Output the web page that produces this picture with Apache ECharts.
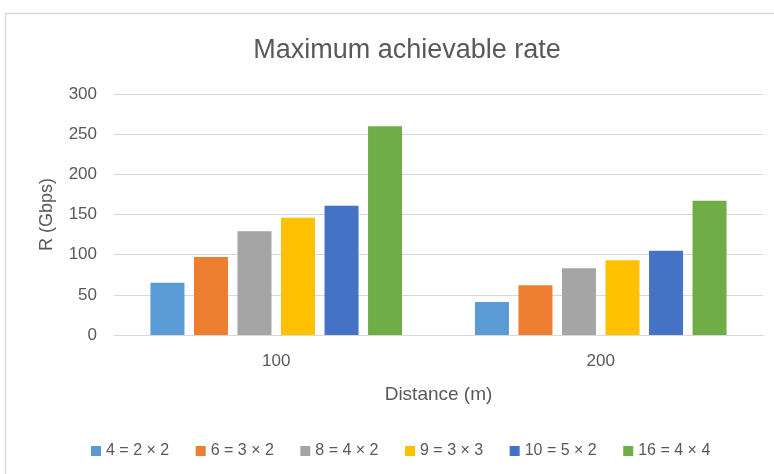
<!DOCTYPE html>
<html><head><meta charset="utf-8">
<script src="https://cdn.jsdelivr.net/npm/echarts@6/dist/echarts.min.js"></script>
<style>html,body{margin:0;padding:0;background:#fff}#c{width:774px;height:474px}</style>
</head><body><div id="c"></div>
<script>
const categories = ['100', '200'];
const seriesNames = ['4 = 2 × 2', '6 = 3 × 2', '8 = 4 × 2', '9 = 3 × 3', '10 = 5 × 2', '16 = 4 × 4'];
const s4 = [65, 41];
const s6 = [97, 62];
const s8 = [129, 83];
const s9 = [146, 93];
const s10 = [161, 105];
const s16 = [260, 167];
const colors = ['#5B9BD5', '#ED7D31', '#A5A5A5', '#FFC000', '#4472C4', '#70AD47'];
const values = [s4, s6, s8, s9, s10, s16];
const FONT = 'Liberation Sans';
const chart = echarts.init(document.getElementById('c'));
chart.setOption({
  animation: false,
  textStyle: { fontFamily: FONT },
  title: { text: 'Maximum achievable rate', left: 402, textAlign: 'center', top: 32,
    textStyle: { fontFamily: FONT, fontSize: 27, fontWeight: 'normal', color: '#595959' } },
  graphic: [{ type: 'rect', shape: { x: 5.5, y: 13.5, width: 820, height: 500 }, style: { fill: 'none', stroke: '#d9d9d9', lineWidth: 1.5 }, silent: true }],
  legend: { bottom: 10, left: 86, itemWidth: 10, itemHeight: 10, itemGap: 26.5, icon: 'rect',
    textStyle: { fontFamily: FONT, fontSize: 16, color: '#595959' }, data: seriesNames },
  grid: { left: 114, right: 11, top: 94, bottom: 139 },
  xAxis: { type: 'category', data: categories, name: 'Distance (m)', nameLocation: 'middle', nameGap: 50,
    nameTextStyle: { fontFamily: FONT, fontSize: 19, color: '#595959' },
    axisLine: { lineStyle: { color: '#d9d9d9' } }, axisTick: { show: false },
    axisLabel: { fontFamily: FONT, fontSize: 17, color: '#595959', margin: 18 } },
  yAxis: { type: 'value', min: 0, max: 300, interval: 50, name: 'R (Gbps)', nameLocation: 'middle', nameGap: 58,
    nameTextStyle: { fontFamily: FONT, fontSize: 18, color: '#595959' },
    axisLine: { show: false }, axisTick: { show: false },
    axisLabel: { fontFamily: FONT, fontSize: 17, color: '#595959', margin: 17 },
    splitLine: { lineStyle: { color: '#d9d9d9' } } },
  series: seriesNames.map((n, i) => ({ name: n, type: 'bar', data: values[i], barWidth: 34, barGap: '28%',
    itemStyle: { color: colors[i] } }))
});
</script></body></html>
